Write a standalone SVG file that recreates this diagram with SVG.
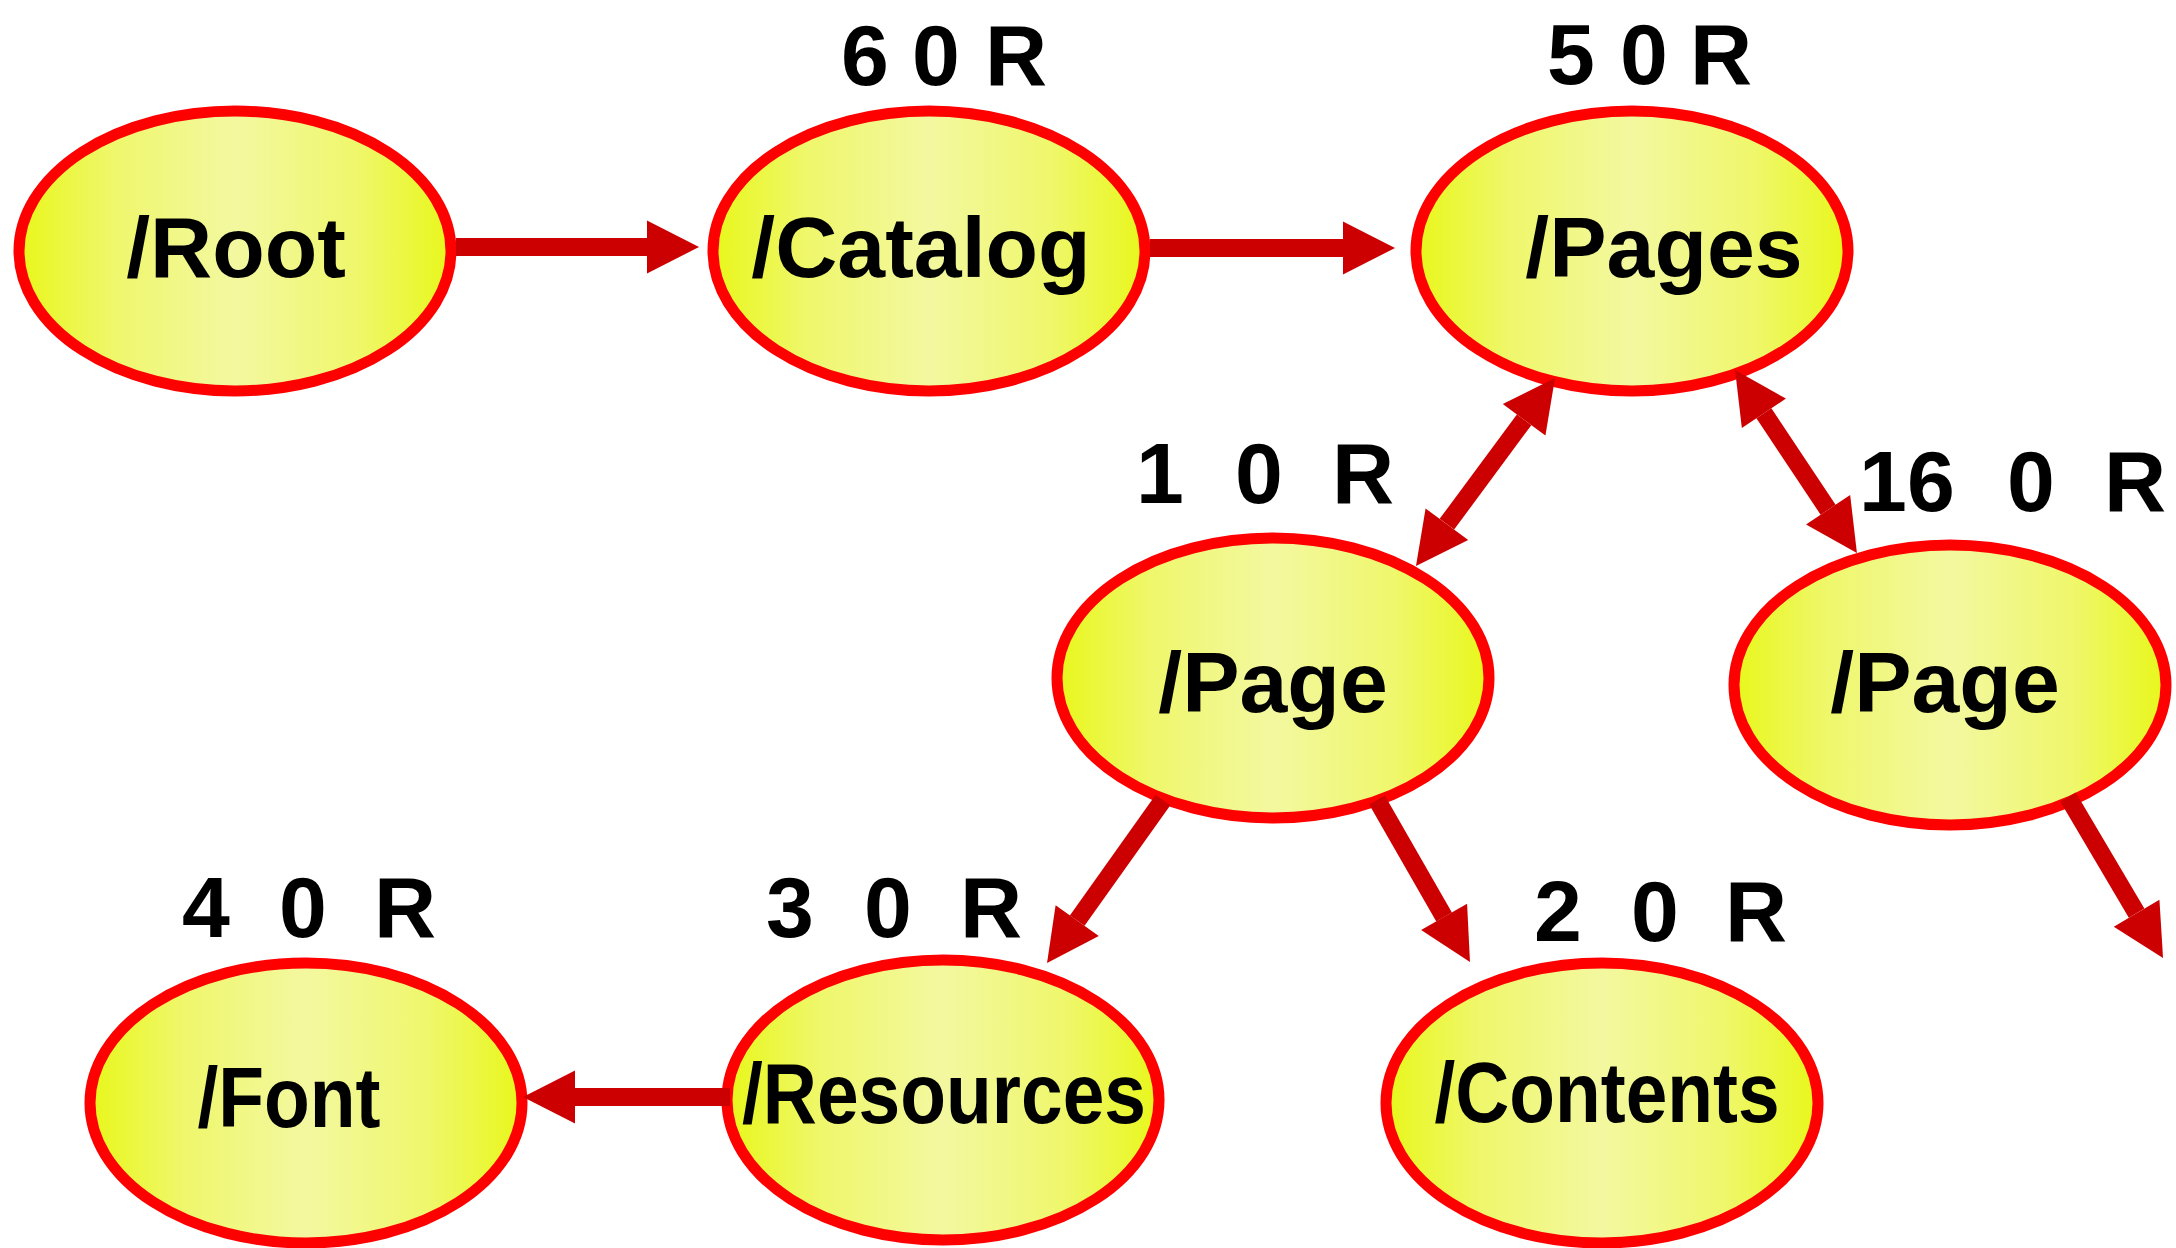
<svg xmlns="http://www.w3.org/2000/svg" width="2176" height="1248" viewBox="0 0 2176 1248">
<defs>
<linearGradient id="fillGrad" x1="0" y1="0" x2="1" y2="0">
<stop offset="0" stop-color="#e8f71a"/>
<stop offset="0.22" stop-color="#eff76c"/>
<stop offset="0.5" stop-color="#f3f8a0"/>
<stop offset="0.78" stop-color="#eff76c"/>
<stop offset="1" stop-color="#e8f71a"/>
</linearGradient>
<marker id="head" markerUnits="userSpaceOnUse" markerWidth="54" markerHeight="56" refX="0" refY="26.5" orient="auto-start-reverse" overflow="visible">
<path d="M0,0 L52,26.5 L0,53 Z" fill="#cc0000"/>
</marker>
</defs>
<style>
.node ellipse{fill:url(#fillGrad);stroke:#ff0000;stroke-width:11}
.name{font-family:"Liberation Sans",Arial,sans-serif;font-weight:bold;font-size:86px;fill:#000;text-anchor:middle}
.ref{font-family:"Liberation Sans",Arial,sans-serif;font-weight:bold;font-size:86px;fill:#000}
.conn line{stroke:#cc0000;stroke-width:18;fill:none}
</style>
<rect width="2176" height="1248" fill="#ffffff"/>
<g id="node-root" class="node">
<ellipse cx="235" cy="251" rx="216" ry="140"/>
<text class="name" x="236" y="277">/Root</text>
</g>
<g id="node-catalog" class="node">
<ellipse cx="929" cy="251" rx="216" ry="140"/>
<text class="name" x="921" y="277">/Catalog</text>
<text class="ref" x="841 889 912 961 985" y="85">6 0 R</text>
</g>
<g id="node-pages" class="node">
<ellipse cx="1632" cy="251" rx="216" ry="140"/>
<text class="name" x="1664" y="277">/Pages</text>
<text class="ref" x="1547 1595 1620 1668 1690" y="84">5 0 R</text>
</g>
<g id="node-page1" class="node">
<ellipse cx="1273" cy="678" rx="216" ry="140"/>
<text class="name" x="1273" y="712">/Page</text>
<text class="ref" x="1136 1184 1235 1283 1332" y="503">1 0 R</text>
</g>
<g id="node-page2" class="node">
<ellipse cx="1950" cy="685" rx="216" ry="140"/>
<text class="name" x="1945" y="712">/Page</text>
<text class="ref" x="1859 1907 1955 2007 2055 2104" y="511">16 0 R</text>
</g>
<g id="node-font" class="node">
<ellipse cx="306" cy="1103" rx="216" ry="140"/>
<text class="name" x="289" y="1127" textLength="183" lengthAdjust="spacingAndGlyphs">/Font</text>
<text class="ref" x="182 230 279 327 374" y="937">4 0 R</text>
</g>
<g id="node-resources" class="node">
<ellipse cx="943" cy="1100" rx="216" ry="140"/>
<text class="name" x="944" y="1123" textLength="404" lengthAdjust="spacingAndGlyphs">/Resources</text>
<text class="ref" x="766 814 864 912 960" y="937">3 0 R</text>
</g>
<g id="node-contents" class="node">
<ellipse cx="1602" cy="1103" rx="216" ry="140"/>
<text class="name" x="1607" y="1122" textLength="345" lengthAdjust="spacingAndGlyphs">/Contents</text>
<text class="ref" x="1534 1582 1631 1679 1725" y="941">2 0 R</text>
</g>
<g id="connectors" class="conn">
<line x1="456" y1="247" x2="647" y2="247" marker-end="url(#head)"/>
<line x1="1150" y1="248" x2="1343" y2="248" marker-end="url(#head)"/>
<line x1="1524.1" y1="419.8" x2="1446.9" y2="524.2" marker-start="url(#head)" marker-end="url(#head)"/>
<line x1="1763.9" y1="413.3" x2="1828.1" y2="509.7" marker-start="url(#head)" marker-end="url(#head)"/>
<line x1="1163" y1="800" x2="1077.2" y2="920.6" marker-end="url(#head)"/>
<line x1="1377" y1="800" x2="1444.1" y2="916.9" marker-end="url(#head)"/>
<line x1="2068" y1="797" x2="2136.6" y2="913.2" marker-end="url(#head)"/>
<line x1="730" y1="1097" x2="575" y2="1097" marker-end="url(#head)"/>
</g>
</svg>
